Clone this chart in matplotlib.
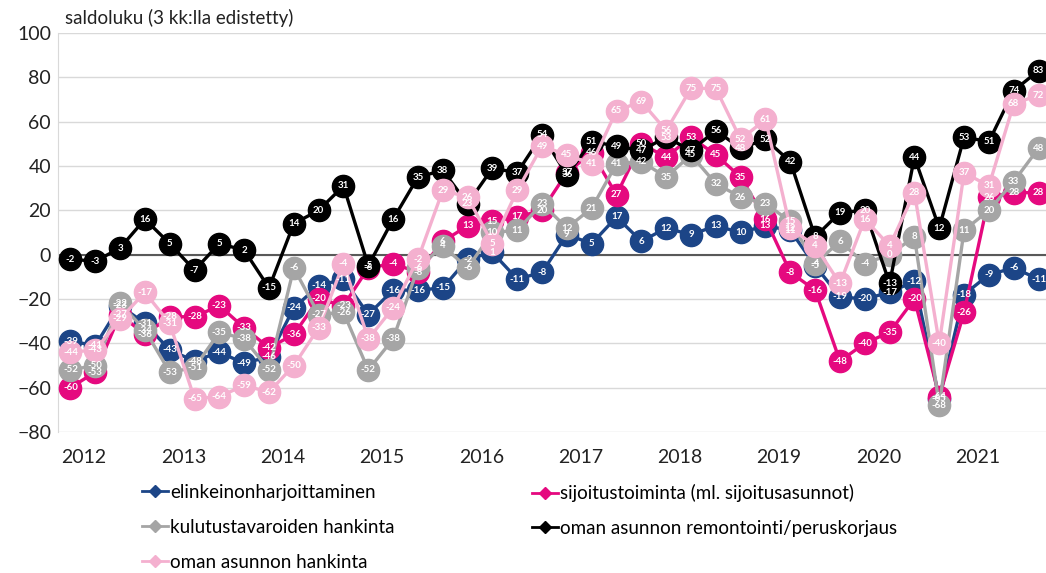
import matplotlib.pyplot as plt
from matplotlib.lines import Line2D

plt.rcParams['font.family'] = ['Lato', 'DejaVu Sans']

# quarterly balance figures 2012 Q1 - 2021 Q4
quarters = list(range(40))
years = [str(y) for y in range(2012, 2022)]

elinkeino = [-39, -41, -23, -31, -43, -48, -44, -49, -46, -24,
             -14, -11, -27, -16, -16, -15, -2, 1, -11, -8,
             9, 5, 17, 6, 12, 9, 13, 10, 13, 11,
             -5, -19, -20, -17, -12, -65, -18, -9, -6, -11]
sijoitus = [-60, -53, -27, -36, -28, -28, -23, -33, -42, -36,
            -20, -23, -6, -4, -8, 6, 13, 15, 17, 20,
            37, 46, 27, 50, 44, 53, 45, 35, 16, -8,
            -16, -48, -40, -35, -20, -64, -26, 26, 28, 28]
kulutus = [-52, -50, -22, -34, -53, -51, -35, -38, -52, -6,
           -27, -26, -52, -38, -6, 4, -6, 10, 11, 23,
           12, 21, 41, 42, 35, 45, 32, 26, 23, 15,
           -4, 6, -4, 0, 8, -68, 11, 20, 33, 48]
remontti = [-2, -3, 3, 16, 5, -7, 5, 2, -15, 14,
            20, 31, -5, 16, 35, 38, 23, 39, 37, 54,
            36, 51, 49, 47, 53, 47, 56, 48, 52, 42,
            8, 19, 20, -13, 44, 12, 53, 51, 74, 83]
asunto = [-44, -43, -29, -17, -31, -65, -64, -59, -62, -50,
          -33, -4, -38, -24, -2, 29, 26, 5, 29, 49,
          45, 41, 65, 69, 56, 75, 75, 52, 61, 12,
          4, -13, 16, 4, 28, -40, 37, 31, 68, 72]

series = [
    ('elinkeinonharjoittaminen', elinkeino, '#1c4587'),
    ('sijoitustoiminta (ml. sijoitusasunnot)', sijoitus, '#e5097f'),
    ('kulutustavaroiden hankinta', kulutus, '#a5a5a5'),
    ('oman asunnon remontointi/peruskorjaus', remontti, '#000000'),
    ('oman asunnon hankinta', asunto, '#f4b0cf'),
]

fig = plt.figure(figsize=(10.46, 5.73), dpi=100, facecolor='white')
ax = fig.add_axes([58 / 1046, 1 - 432 / 573, 1 - 58 / 1046, (432 - 33) / 573])

for i, (name, vals, col) in enumerate(series):
    ax.plot(quarters, vals, color=col, linewidth=2.4, marker='o',
            markersize=16, markerfacecolor=col, markeredgecolor=col,
            zorder=3 + i)
for i, (name, vals, col) in enumerate(series):
    for x, v in zip(quarters, vals):
        ax.text(x, v, str(v), color='white', fontsize=7, fontweight='bold',
                ha='center', va='center', zorder=10 + i)

ax.set_xlim(-0.5, 39.3)
ax.set_ylim(-80, 100)
ax.set_yticks(range(-80, 101, 20))
ax.set_xticks([4 * k + 0.55 for k in range(len(years))])
ax.set_xticklabels(years)
ax.tick_params(axis='both', length=0, labelsize=14, colors='#222222')
ax.tick_params(axis='x', pad=12)
ax.tick_params(axis='y', pad=5)

ax.yaxis.grid(True, color='#d9d9d9', linewidth=1)
ax.set_axisbelow(True)
ax.axhline(0, color='#595959', linewidth=1.5, zorder=2)
for s in ['top', 'right', 'bottom']:
    ax.spines[s].set_visible(False)
ax.spines['left'].set_color('#d9d9d9')

fig.text(65 / 1046, 1 - 18 / 573, 'saldoluku (3 kk:lla edistetty)',
         fontsize=13.5, ha='left', va='center', color='#222222')

def handle(col):
    return Line2D([], [], color=col, linewidth=2, marker='D', markersize=6)

left_items = [series[0], series[2], series[4]]
right_items = [series[1], series[3]]
for items, x0 in [(left_items, 142), (right_items, 532)]:
    fig.legend([handle(c) for _, _, c in items], [n for n, _, _ in items],
               loc='upper left', bbox_to_anchor=(x0 / 1046, 1 - 484 / 573),
               frameon=False, fontsize=13.5, handlelength=1.4, handletextpad=0.1,
               labelspacing=0.95, borderaxespad=0, borderpad=0)

fig.savefig('out.png', dpi=100)
